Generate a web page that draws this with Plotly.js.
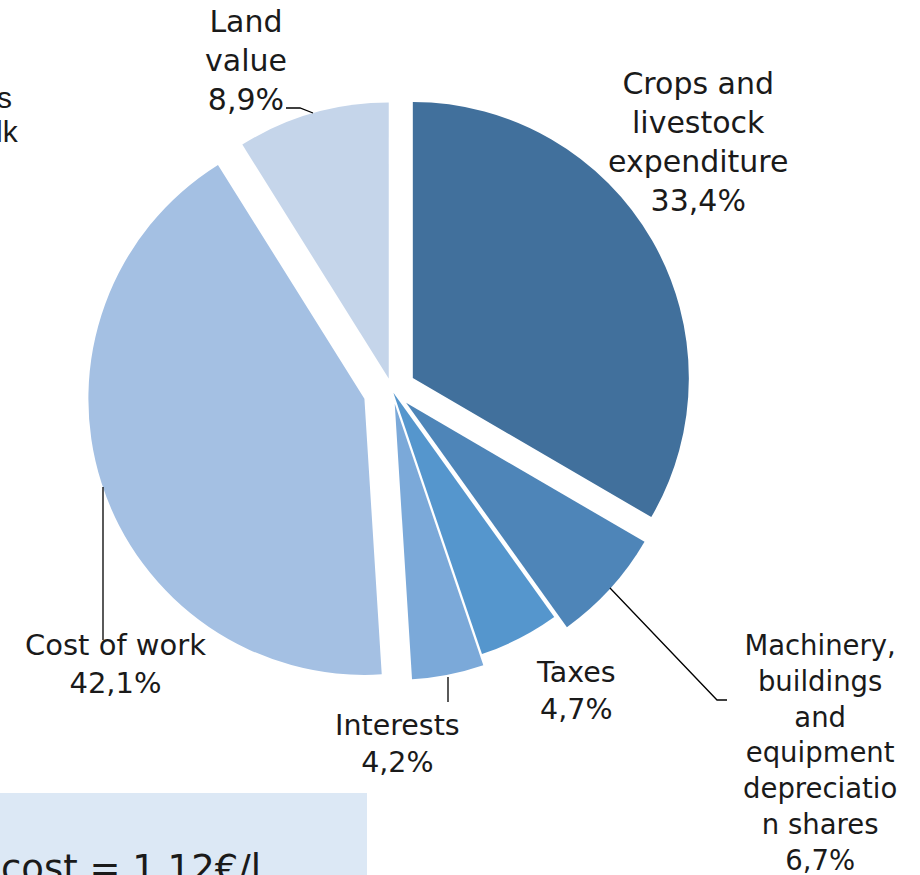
<!DOCTYPE html>
<html>
<head>
<meta charset="utf-8">
<script src="https://cdn.plot.ly/plotly-3.0.1.min.js"></script>
<style>
  html, body { margin: 0; padding: 0; background: #ffffff; }
  #chart { width: 920px; height: 875px; }
</style>
</head>
<body>
<div id="chart"></div>
<script>
// ---- data ----
const categories = [
  "Crops and livestock expenditure",
  "Machinery, buildings and equipment depreciation shares",
  "Taxes",
  "Interests",
  "Cost of work",
  "Land value"
];
const shares = [33.4, 6.7, 4.7, 4.2, 42.1, 8.9];
const labelLines = [
  ["Crops and", "livestock", "expenditure"],
  ["Machinery,", "buildings", "and", "equipment", "depreciatio", "n shares"],
  ["Taxes"],
  ["Interests"],
  ["Cost of work"],
  ["Land", "value"]
];
const boxText = "cost = 1,12€/l,";

// ---- styles ----
const W = 920, H = 875;
const FONT = "DejaVu Sans";
const sliceColors = ["#41709C", "#4E85B8", "#5596CD", "#7BA9D9", "#A4C0E3", "#C5D5EA"];
const slicePull = [0.087, 0.069, 0.011, 0.051, 0.105, 0.043];
const labelPos = [[698, 142.5], [820, 752], [576, 691], [397.5, 744], [115, 664], [246.5, 60.5]];
const labelSize = [30, 27.5, 28.5, 28.5, 29, 30];
const leaders = [
  null,
  [[610, 588], [717, 700], [727, 700]],
  null,
  [[448, 677], [448, 702]],
  [[103, 487], [103, 640]],
  [[286, 108], [300, 108], [313, 113]]
];

function fx(x) { return x / W; }
function fy(y) { return 1 - y / H; }
function fmt(v) { return v.toFixed(1).replace(".", ",") + "%"; }

const trace = {
  type: "pie",
  labels: categories,
  values: shares,
  sort: false,
  direction: "clockwise",
  rotation: 0,
  pull: slicePull,
  marker: { colors: sliceColors, line: { width: 0 } },
  textinfo: "none",
  hoverinfo: "skip",
  domain: { x: [fx(87), fx(697)], y: [fy(695), fy(85)] }
};

const annotations = categories.map((c, i) => ({
  xref: "paper", yref: "paper",
  x: fx(labelPos[i][0]), y: fy(labelPos[i][1]),
  xanchor: "center", yanchor: "middle",
  align: "center",
  showarrow: false,
  text: labelLines[i].join("<br>") + "<br>" + fmt(shares[i]),
  font: { family: FONT, size: labelSize[i], color: "#1a1a1a" }
}));

// partial texts cut by the frame
annotations.push({
  xref: "paper", yref: "paper", x: fx(14), y: fy(98), xanchor: "right", yanchor: "middle",
  showarrow: false, text: "costs as", font: { family: "Liberation Sans", size: 30, color: "#1a1a1a" }
});
annotations.push({
  xref: "paper", yref: "paper", x: fx(21), y: fy(132), xanchor: "right", yanchor: "middle",
  showarrow: false, text: "of milk", font: { family: "Liberation Sans", size: 30, color: "#1a1a1a" }
});
annotations.push({
  xref: "paper", yref: "paper", x: fx(360), y: fy(3), xanchor: "left", yanchor: "bottom",
  showarrow: false, text: "Cost", font: { family: FONT, size: 30, color: "#1a1a1a" }
});
annotations.push({
  xref: "paper", yref: "paper", x: fx(-1), y: fy(868), xanchor: "left", yanchor: "middle",
  showarrow: false, text: boxText, font: { family: FONT, size: 37, color: "#1a1a1a" }
});

const shapes = [{
  type: "rect", xref: "paper", yref: "paper", layer: "below",
  x0: fx(0), x1: fx(367), y0: fy(875), y1: fy(793),
  fillcolor: "#DCE8F5", line: { width: 0 }
}];
leaders.forEach(pts => {
  if (!pts) return;
  const d = pts.map((p, k) => (k ? "L" : "M") + fx(p[0]) + "," + fy(p[1])).join(" ");
  shapes.push({ type: "path", xref: "paper", yref: "paper", path: d, line: { color: "#000000", width: 1.3 } });
});

const layout = {
  width: W, height: H,
  margin: { l: 0, r: 0, t: 0, b: 0 },
  paper_bgcolor: "#ffffff",
  showlegend: false,
  annotations: annotations,
  shapes: shapes,
  font: { family: FONT }
};

Plotly.newPlot("chart", [trace], layout, { displayModeBar: false, staticPlot: true });
</script>
</body>
</html>
